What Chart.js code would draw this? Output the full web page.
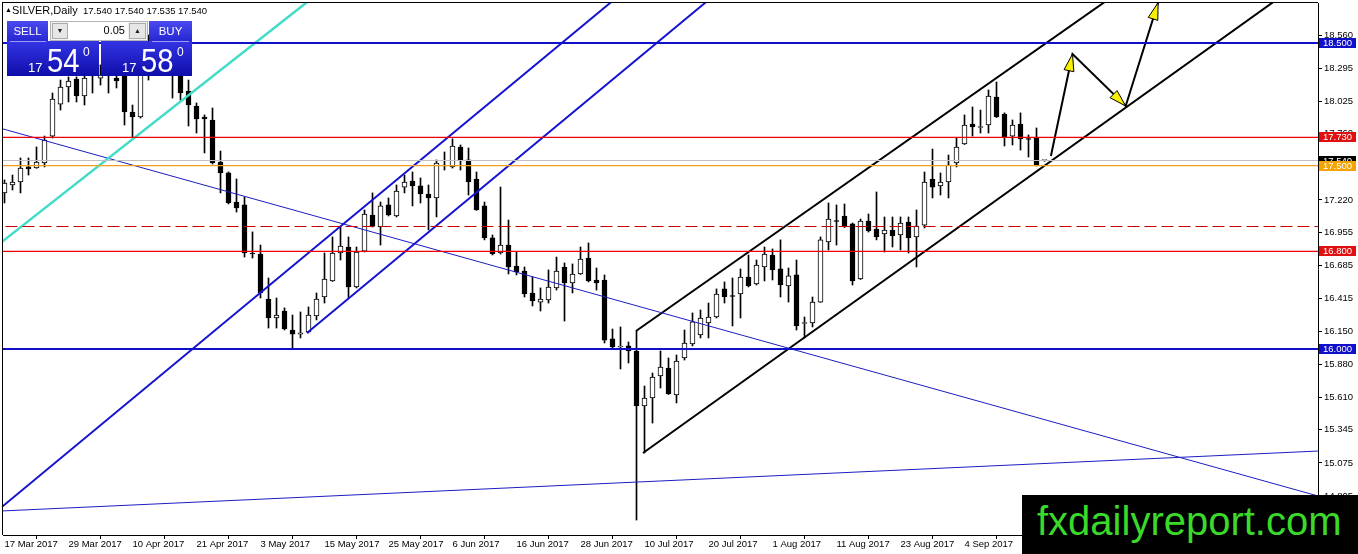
<!DOCTYPE html>
<html><head><meta charset="utf-8">
<script src="https://cdn.jsdelivr.net/npm/chart.js@4.4.1/dist/chart.umd.min.js"></script>
<style>
html,body{margin:0;padding:0;background:#fff;width:1358px;height:554px;overflow:hidden;font-family:"Liberation Sans",Arial,sans-serif;}
#wrap{position:relative;width:1358px;height:554px;}
#c{position:absolute;left:0;top:0;}
.abs{position:absolute;white-space:nowrap;}
.btn{background:linear-gradient(#4a4aee,#2626d2);}
.box{background:linear-gradient(#3434e4,#0e0eaa);}
.wt{color:#fff;line-height:1;}
.gbtn{background:#e6e6e6;border:1px solid #aaa;box-sizing:border-box;font-size:7px;line-height:14px;text-align:center;color:#222;}
</style></head>
<body><div id="wrap">
<canvas id="c" width="1358" height="554"></canvas>

<!-- header -->
<div class="abs" style="left:5px;top:6px;font-size:7px;line-height:1;color:#000;">▲</div>
<div class="abs" style="left:12px;top:5px;font-size:11px;line-height:1;color:#000;">SILVER,Daily</div>
<div class="abs" style="left:83px;top:6px;font-size:9.5px;line-height:1;color:#000;">17.540 17.540 17.535 17.540</div>

<!-- one-click panel -->
<div class="abs btn" style="left:7px;top:21px;width:41px;height:21px;"></div>
<div class="abs btn" style="left:149px;top:21px;width:43px;height:21px;"></div>
<div class="abs box" style="left:7px;top:41px;width:92px;height:35px;"></div>
<div class="abs box" style="left:101px;top:41px;width:91px;height:35px;"></div>
<div class="abs" style="left:10px;top:41px;width:36px;height:1px;background:rgba(200,200,255,0.7);"></div>
<div class="abs" style="left:152px;top:41px;width:37px;height:1px;background:rgba(200,200,255,0.7);"></div>
<div class="abs wt" style="left:7px;top:26px;width:41px;text-align:center;font-size:11.5px;">SELL</div>
<div class="abs wt" style="left:149px;top:26px;width:43px;text-align:center;font-size:11.5px;">BUY</div>
<div class="abs" style="left:50px;top:21px;width:98px;height:20px;background:#f2f2f2;border:1px solid #b4b4b4;box-sizing:border-box;"></div>
<div class="abs gbtn" style="left:52px;top:23px;width:16px;height:16px;">▼</div>
<div class="abs" style="left:68px;top:22px;width:60px;height:18px;background:#fff;"></div>
<div class="abs" style="left:68px;top:25px;width:57px;text-align:right;font-size:11px;line-height:1;color:#000;">0.05</div>
<div class="abs gbtn" style="left:129px;top:23px;width:17px;height:16px;">▲</div>

<div class="abs wt" style="left:28px;top:61px;font-size:13px;">17</div>
<div class="abs wt" style="left:47px;top:43px;font-size:34px;transform:scaleX(0.86);transform-origin:left top;">54</div>
<div class="abs wt" style="left:83px;top:46px;font-size:12px;">0</div>
<div class="abs wt" style="left:122px;top:61px;font-size:13px;">17</div>
<div class="abs wt" style="left:141px;top:43px;font-size:34px;transform:scaleX(0.86);transform-origin:left top;">58</div>
<div class="abs wt" style="left:177px;top:46px;font-size:12px;">0</div>

<!-- watermark -->
<div class="abs" style="left:1022px;top:495px;width:336px;height:59px;background:#000;"></div>
<div class="abs" style="left:1037px;top:501px;font-size:40px;line-height:40px;color:#3bd92a;">fxdailyreport.com</div>
</div>

<script>
// ---------- data ----------
const dateLabels = ["17 Mar 2017","29 Mar 2017","10 Apr 2017","21 Apr 2017","3 May 2017","15 May 2017","25 May 2017","6 Jun 2017","16 Jun 2017","28 Jun 2017","10 Jul 2017","20 Jul 2017","1 Aug 2017","11 Aug 2017","23 Aug 2017","4 Sep 2017"];
const dateTickIdx = [0,8,16,24,32,40,48,56,64,72,80,88,96,104,112,120];

const opens = [17.277,17.342,17.366,17.489,17.480,17.521,17.741,18.002,18.141,18.206,18.068,18.280,18.214,18.247,18.214,18.280,17.937,17.896,18.361,18.484,18.541,18.443,18.345,18.108,17.986,17.896,17.872,17.529,17.440,17.203,17.179,16.787,16.779,16.412,16.257,16.314,16.159,16.126,16.143,16.273,16.428,16.559,16.787,16.836,16.510,16.803,17.097,16.999,17.179,17.089,17.325,17.374,17.334,17.268,17.236,17.497,17.489,17.652,17.546,17.391,17.171,16.910,16.787,16.852,16.681,16.640,16.461,16.387,16.404,16.502,16.673,16.542,16.616,16.746,16.567,16.567,16.086,16.020,16.029,15.988,15.539,15.604,15.784,15.849,15.629,15.931,16.045,16.118,16.216,16.265,16.494,16.440,16.453,16.591,16.534,16.673,16.771,16.657,16.518,16.608,16.212,16.216,16.387,16.877,17.052,17.089,17.024,16.575,17.048,16.983,16.942,16.975,16.934,17.040,16.918,17.015,17.391,17.334,17.366,17.521,17.676,17.839,17.811,17.831,18.059,17.921,17.741,17.839,17.721,17.725,17.540];
const highs = [17.383,17.423,17.562,17.562,17.652,17.741,18.092,18.198,18.223,18.223,18.263,18.345,18.321,18.378,18.312,18.361,17.994,18.443,18.565,18.647,18.622,18.524,18.402,18.198,18.011,17.913,17.970,17.619,17.448,17.391,17.244,16.959,16.852,16.583,16.420,16.339,16.281,16.306,16.347,16.461,16.787,16.918,16.999,16.918,16.836,17.138,17.277,17.203,17.236,17.342,17.423,17.448,17.399,17.342,17.546,17.611,17.718,17.668,17.644,17.448,17.203,16.934,17.325,17.056,16.795,16.673,16.591,16.502,16.649,16.754,16.706,16.698,16.836,16.869,16.665,16.608,16.167,16.184,16.061,16.151,15.702,15.808,15.988,15.931,15.955,16.159,16.298,16.322,16.379,16.494,16.551,16.583,16.657,16.771,16.730,16.836,16.820,16.894,16.665,16.730,16.265,16.428,16.918,17.195,17.179,17.187,17.032,17.064,17.105,17.285,17.081,17.081,17.081,17.081,17.138,17.448,17.635,17.440,17.586,17.725,17.913,17.978,17.953,18.117,18.182,17.930,17.872,17.930,17.750,17.807,17.540];
const lows = [17.195,17.301,17.277,17.423,17.478,17.489,17.725,17.953,18.019,18.019,17.994,18.092,18.157,18.092,18.133,17.831,17.733,17.888,18.198,18.280,18.280,18.051,18.035,17.823,17.766,17.603,17.513,17.277,17.187,17.121,16.754,16.746,16.420,16.175,16.175,16.159,16.012,16.094,16.135,16.241,16.379,16.555,16.730,16.420,16.502,16.795,16.999,16.852,17.089,17.081,17.277,17.171,17.195,16.975,17.081,17.464,17.480,17.464,17.260,17.135,16.894,16.771,16.779,16.616,16.608,16.428,16.355,16.314,16.379,16.485,16.232,16.461,16.612,16.551,16.485,16.053,16.012,15.841,15.890,14.609,15.156,15.400,15.686,15.633,15.564,15.914,16.029,16.094,16.094,16.257,16.379,16.192,16.257,16.510,16.526,16.559,16.567,16.428,16.387,16.159,16.094,16.184,16.384,16.812,16.852,16.995,16.526,16.571,16.958,16.894,16.795,16.836,16.812,16.787,16.673,16.991,17.236,17.260,17.236,17.489,17.672,17.741,17.766,17.766,17.892,17.660,17.668,17.627,17.570,17.497,17.535];
const closes = [17.358,17.366,17.480,17.472,17.529,17.709,18.043,18.141,18.190,18.068,18.214,18.231,18.239,18.296,18.190,17.937,17.896,18.345,18.484,18.541,18.443,18.345,18.092,17.994,17.880,17.880,17.521,17.440,17.195,17.154,16.787,16.779,16.461,16.257,16.281,16.167,16.126,16.135,16.281,16.412,16.575,16.787,16.844,16.510,16.795,17.105,17.007,17.171,17.097,17.293,17.366,17.334,17.268,17.236,17.521,17.502,17.660,17.538,17.366,17.138,16.910,16.779,16.852,16.673,16.632,16.453,16.396,16.412,16.510,16.640,16.542,16.616,16.738,16.559,16.542,16.077,16.020,16.024,15.988,15.539,15.604,15.776,15.857,15.637,15.906,16.053,16.225,16.257,16.265,16.453,16.428,16.432,16.591,16.518,16.689,16.779,16.649,16.526,16.600,16.192,16.220,16.387,16.894,17.064,17.044,16.999,16.559,17.048,16.967,16.918,16.975,16.926,17.032,16.910,17.007,17.366,17.325,17.366,17.505,17.652,17.831,17.815,17.819,18.068,17.896,17.733,17.831,17.717,17.713,17.505,17.540];

const yTickValues = [18.560,18.295,18.025,17.760,17.490,17.220,16.955,16.685,16.415,16.150,15.880,15.610,15.345,15.075,14.805];

const levelValues = [18.500,17.730,17.540,17.500,17.000,16.800,16.000];
const tagValues   = [18.500,17.730,17.540,17.500,16.800,16.000];

// trend lines: [barIndex, price] end points
const cyanLine      = [[-2,16.792],[40,18.945]];
const blueDownLine  = [[-2,17.832],[166,14.772]];
const blueFlatLine  = [[-2,14.678],[166,15.177]];
const blueLongLine  = [[-2,14.626],[80,19.059]];
const blueChanLine  = [[37.8,16.135],[92,19.067]];
const blackLowLine  = [[79.81,15.156],[162,18.993]];
const blackHighLine = [[78.94,16.151],[140,18.948]];
const arrowPath     = [[130.8,17.578],[133.5,18.410],[140.15,17.986],[144.2,18.829]];

// ---------- styles ----------
const levelStyles = [
  {c:'#1010cc', w:2, d:[], snap:true},
  {c:'#f00000', w:1.2, d:[], snap:false},
  {c:'#c0c0c0', w:1, d:[], snap:true},
  {c:'#f0a020', w:1.2, d:[], snap:false},
  {c:'#c80000', w:1, d:[12,5], snap:true},
  {c:'#f00000', w:1.2, d:[], snap:false},
  {c:'#1010cc', w:2, d:[], snap:true}
];
const tagStyles = ['#1010c8','#e01010','#000000','#f5a300','#e01010','#1010c8'];

function seg(points, color, width, dash, snap){
  return {type:'line', data: points.map(p=>({x:p[0], y:p[1]})), borderColor:color, borderWidth:width,
    borderDash:dash||[], pointRadius:0, pointHoverRadius:0, fill:false, tension:0, order:1, snapLevel:snap};
}

const idx = opens.map((_, i) => i);
const datasets = [];
levelValues.forEach((v,k)=>{
  const s = levelStyles[k];
  datasets.push(seg([[-2,v],[170,v]], s.c, s.w, s.d, s.snap ? v : undefined));
});
datasets.push(seg(cyanLine, '#40dcc8', 2.5));
datasets.push(seg(blueDownLine, '#1c1cc4', 1));
datasets.push(seg(blueFlatLine, '#1c1cc4', 1));
datasets.push(seg(blueLongLine, '#1414d0', 2));
datasets.push(seg(blueChanLine, '#1414d0', 2));
datasets.push(seg(blackLowLine, '#000000', 2));
datasets.push(seg(blackHighLine, '#000000', 2));
datasets.push(seg(arrowPath, '#000000', 2));

datasets.push({
  type:'bar', data: idx.map(i=>({x:i, y:[opens[i], closes[i]]})),
  backgroundColor: idx.map(i=> closes[i] >= opens[i] ? '#ffffff' : '#000000'),
  borderColor:'#000', borderWidth:1, borderSkipped:false, barThickness:5,
  grouped:false, minBarLength:1, order:10
});
datasets.push({
  type:'bar', data: idx.map(i=>({x:i, y:[lows[i], highs[i]]})),
  backgroundColor:'#000', borderWidth:0, barThickness:1,
  grouped:false, minBarLength:1, order:11
});

// snap some horizontal level lines onto the pixel grid
const snapPlugin = {
  id:'snap',
  beforeDatasetDraw(chart, args){
    const ds = chart.data.datasets[args.index];
    if (ds.snapLevel === undefined) return;
    const py = chart.scales.y.getPixelForValue(ds.snapLevel);
    const w = ds.borderWidth;
    const target = (w % 2 === 1) ? Math.floor(py) + 0.5 : Math.round(py);
    chart.ctx.save();
    chart.ctx.translate(0, target - py);
  },
  afterDatasetDraw(chart, args){
    const ds = chart.data.datasets[args.index];
    if (ds.snapLevel === undefined) return;
    chart.ctx.restore();
  }
};

const overlay = {
  id:'overlay',
  afterDatasetsDraw(chart){
    const {ctx, chartArea:a, scales:{x,y}} = chart;
    ctx.save();
    ctx.beginPath(); ctx.rect(a.left, a.top-1, a.right-a.left, a.bottom-a.top+1); ctx.clip();
    for (let k=1;k<arrowPath.length;k++){
      const x1=x.getPixelForValue(arrowPath[k-1][0]), y1=y.getPixelForValue(arrowPath[k-1][1]);
      const x2=x.getPixelForValue(arrowPath[k][0]), y2=y.getPixelForValue(arrowPath[k][1]);
      const ang=Math.atan2(y2-y1,x2-x1), L=17, W=5;
      const bx=x2-L*Math.cos(ang), by=y2-L*Math.sin(ang);
      const px=-Math.sin(ang)*W, py=Math.cos(ang)*W;
      ctx.beginPath(); ctx.moveTo(x2,y2); ctx.lineTo(bx+px,by+py); ctx.lineTo(bx-px,by-py); ctx.closePath();
      ctx.fillStyle='#f8f000'; ctx.fill();
      ctx.strokeStyle='#000'; ctx.lineWidth=1; ctx.stroke();
    }
    ctx.restore();
  },
  afterDraw(chart){
    const {ctx, chartArea:a, scales:{y}} = chart;
    ctx.save();
    ctx.fillStyle='#000';
    ctx.fillRect(a.left-1, a.top-1, a.right-a.left+1, 1);
    ctx.fillRect(a.left-1, a.top-1, 1, a.bottom-a.top+1);
    ctx.font = '9.5px "Liberation Sans"';
    ctx.textBaseline='middle'; ctx.textAlign='left';
    tagValues.forEach((v,k)=>{
      const py = y.getPixelForValue(v);
      ctx.fillStyle = tagStyles[k];
      ctx.fillRect(a.right+1, Math.round(py)-5, 37, 10);
      ctx.fillStyle = '#fff';
      ctx.fillText(v.toFixed(3), a.right+5, Math.round(py)+0.5);
    });
    ctx.restore();
  }
};

new Chart(document.getElementById('c'), {
  type:'bar',
  data:{datasets},
  plugins:[snapPlugin, overlay],
  options:{
    responsive:false, animation:false, devicePixelRatio:1,
    layout:{padding:{left:3, top:3, right:0, bottom:0}},
    plugins:{legend:{display:false}, tooltip:{enabled:false}},
    scales:{
      x:{type:'linear', position:'bottom', min:-0.1875, max:164.1875, offset:false,
        grid:{display:true, drawOnChartArea:false, drawTicks:true, tickLength:4, color:'#000'},
        border:{display:true, color:'#000', width:1},
        ticks:{autoSkip:false, maxRotation:0, minRotation:0, align:'start', padding:0, color:'#000',
          font:{family:'Liberation Sans', size:9.5}, callback:(v,i)=>dateLabels[i]},
        afterBuildTicks:s=>{ s.ticks = dateTickIdx.map(v=>({value:v})); },
        afterFit:s=>{ s.height=19; s.paddingLeft=0; s.paddingRight=0; }
      },
      y:{type:'linear', position:'right', min:14.4869, max:18.8262,
        grid:{display:true, drawOnChartArea:false, drawTicks:true, tickLength:4, color:'#000'},
        border:{display:true, color:'#000', width:1},
        ticks:{padding:2, color:'#000', font:{family:'Liberation Sans', size:9.5}, callback:v=>Number(v).toFixed(3)},
        afterBuildTicks:s=>{ s.ticks = yTickValues.map(v=>({value:v})); },
        afterFit:s=>{ s.width=40; s.paddingTop=0; s.paddingBottom=0; }
      }
    }
  }
});
</script>
</body></html>
